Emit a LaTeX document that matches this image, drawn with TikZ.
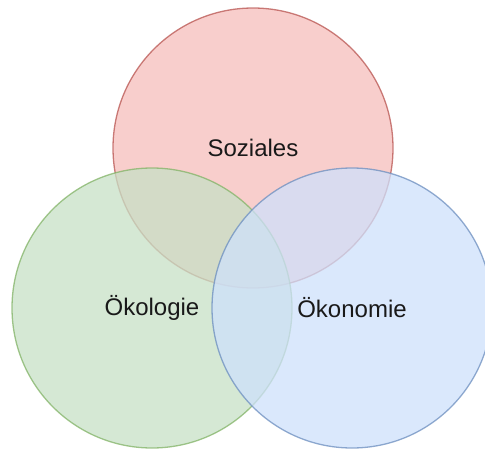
\documentclass[tikz,border=0pt]{standalone}
\usepackage{fontspec}
\setmainfont{Liberation Sans}
\definecolor{redfill}{RGB}{246,190,187}
\definecolor{greenfill}{RGB}{199,224,198}
\definecolor{bluefill}{RGB}{206,224,251}
\definecolor{redline}{HTML}{B85450}
\definecolor{greenline}{HTML}{82B366}
\definecolor{blueline}{HTML}{6C8EBF}
\tikzset{
  venn/.style={circle, minimum size=280pt, inner sep=0pt, line width=1.3pt,
    fill opacity=0.75, draw opacity=0.75, text opacity=1,
    font=\fontsize{24}{28}\selectfont, text=black!90},
}
\begin{document}
\begin{tikzpicture}[x=1pt,y=-1pt]
\useasboundingbox (0,0) rectangle (485,450);
\clip (0,0) rectangle (485,450);
\node[venn, fill=redfill, draw=redline] (soz) at (253,148) {Soziales};
\node[venn, fill=greenfill, draw=greenline] (oek) at (152,308) {Ökologie};
\node[venn, fill=bluefill, draw=blueline] (oko) at (352,308) {Ökonomie};
\end{tikzpicture}
\end{document}
